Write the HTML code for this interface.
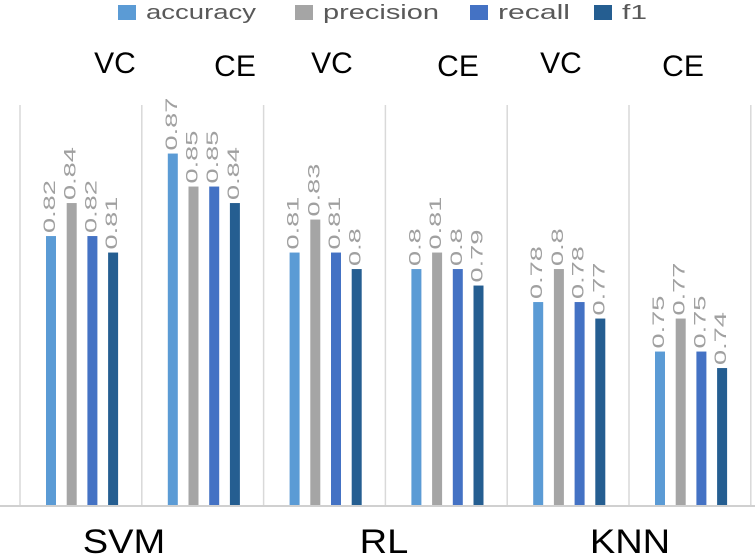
<!DOCTYPE html>
<html><head><meta charset="utf-8"><style>
body{margin:0;background:#fff;}
svg text{font-family:"Liberation Sans","DejaVu Sans",sans-serif;}
</style></head><body>
<svg id="chart" width="755" height="555" viewBox="0 0 755 555" xmlns="http://www.w3.org/2000/svg">
<g id="legend"></g>
<g id="grid"></g>
<g id="bars"></g>
<g id="labels"></g>
</svg>
<script>
const groups = ["VC","CE","VC","CE","VC","CE"];
const models = ["SVM","RL","KNN"];
const seriesNames = ["accuracy","precision","recall","f1"];
const accuracy = [0.82,0.87,0.81,0.8,0.78,0.75];
const precision = [0.84,0.85,0.83,0.81,0.8,0.77];
const recall = [0.82,0.85,0.81,0.8,0.78,0.75];
const f1 = [0.81,0.84,0.8,0.79,0.77,0.74];
const series=[accuracy,precision,recall,f1];
const colors=["#5b9bd5","#a5a5a5","#4472c4","#255e91"];
const NS="http://www.w3.org/2000/svg";
const base=505, vmin=0.657, pxPer=1650;
function y(v){return base-(v-vmin)*pxPer;}
const gx0=20, gw=121.8;
function groupX(i){return gx0+i*gw;}
function mk(tag,attrs,parent){const e=document.createElementNS(NS,tag);for(const k in attrs)e.setAttribute(k,attrs[k]);parent.appendChild(e);return e;}
const grid=document.getElementById('grid'),bars=document.getElementById('bars'),labels=document.getElementById('labels'),legend=document.getElementById('legend');
for(let i=0;i<=groups.length;i++){
  const l=mk('line',{x1:groupX(i),x2:groupX(i),y1:105,y2:base,stroke:'#d9d9d9','stroke-width':1.5},grid);
  
  
}
const ax=mk('line',{x1:0,x2:755,y1:base+1,y2:base+1,stroke:'#d0d0d0','stroke-width':2},grid);


const glx=[115,235,332,458,561,683];
groups.forEach((g,i)=>{
  series.forEach((s,j)=>{
    const x=groupX(i)+26+j*20.7, v=s[i];
    const r=mk('rect',{x:x,y:y(v),width:10,height:base-y(v),fill:colors[j]},bars);
    
    
    const t=mk('text',{x:0,y:0,transform:`translate(${x+9},${y(v)-3}) rotate(-90) scale(1.6,1)`,fill:'#a0a0a0','font-size':17},labels);
    t.textContent=String(v);
    
    
  });
  const gt=mk('text',{x:glx[i],y:i%2?76:73,'text-anchor':'middle','font-size':30,fill:'#000'},labels);
  gt.textContent=g;
  
  
});
const mx=[124,384,630];
models.forEach((m,i)=>{
  const t=mk('text',{x:0,y:0,transform:`translate(${mx[i]},553) scale(1.12,1)`,'text-anchor':'middle','font-size':34,fill:'#000'},labels);
  t.textContent=m;
  
  
});
const lx=[118,295,470,594];
const tl=[110,116,72,25];
seriesNames.forEach((n,j)=>{
  const r=mk('rect',{x:lx[j],y:5,width:18,height:15,fill:colors[j]},legend);
  
  
  const t=mk('text',{x:lx[j]+28,y:19,'font-size':20,fill:'#595959',textLength:tl[j],lengthAdjust:'spacingAndGlyphs'},legend);
  t.textContent=n;
  
  
});
</script>
</body></html>
